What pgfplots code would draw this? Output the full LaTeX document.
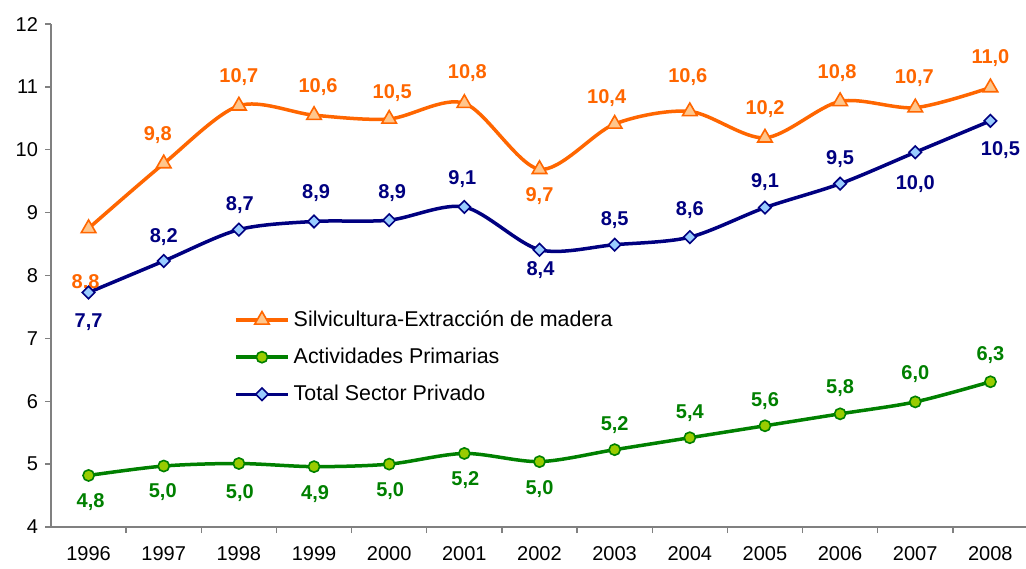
\documentclass[border=0pt]{standalone}
\usepackage{pgfplots}
\pgfplotsset{compat=1.18}
\usepackage{fontspec}
\setmainfont{Liberation Sans}
\definecolor{silvi}{HTML}{FF6600}
\definecolor{silvifill}{HTML}{FFC68C}
\definecolor{prim}{HTML}{008000}
\definecolor{primfill}{HTML}{99CC00}
\definecolor{priv}{HTML}{000080}
\definecolor{privfill}{HTML}{99CCFF}
\definecolor{axisgray}{HTML}{808080}

\begin{document}
\begin{tikzpicture}
\begin{axis}[
  scale only axis,
  width=488.5pt, height=251.5pt,
  xmin=1995.5, xmax=2008.5, ymin=4, ymax=12,
  axis x line=bottom, axis y line=left,
  axis line style={-, draw=axisgray, line width=0.7pt},
  xtick={1996,...,2008},
  minor xtick={1996.5,1997.5,...,2007.5},
  ytick={4,...,12},
  tick align=outside,
  major x tick style={draw=none},
  major tick length=3pt, minor tick length=3pt,
  every tick/.style={axisgray, line width=0.7pt},
  minor tick style={axisgray, line width=0.7pt},
  major y tick style={axisgray, line width=0.7pt},
  xticklabel style={/pgf/number format/1000 sep={}, yshift=-3pt},
  /pgf/number format/assume math mode=true,
  tick label style={font=\fontsize{10}{12}\selectfont},
  clip=false,
  legend cell align=left,
  legend style={at={(rel axis cs:0.181,0.447)}, anchor=north west, draw=none, fill=none,
    font=\fontsize{10.7}{12.8}\selectfont, row sep=5.3pt},
  legend image code/.code={\draw[mark repeat=2, mark phase=2] plot coordinates {(0pt,0pt) (13pt,0pt) (26pt,0pt)};},
  every axis plot/.append style={line width=1.75pt, smooth},
  nodes near coords,
  point meta=explicit symbolic,
  visualization depends on={\thisrow{dx} \as \dx},
  visualization depends on={\thisrow{dy} \as \dy},
]
\addplot[silvi, mark=triangle*, mark size=4.2pt,
  mark options={fill=silvifill, draw=silvi, line width=0.8pt},
  nodes near coords style={anchor=center, xshift=\dx*1pt, yshift=\dy*1pt,
    font=\fontsize{10}{12}\selectfont\bfseries, text=silvi}]
  table[x=x, y=y, meta=lab] {
x y lab dx dy
1996 8.75 8,8 -1.5 -27.5
1997 9.78 9,8 -3 14.5
1998 10.70 10,7 0 14.5
1999 10.55 10,6 2 14
2000 10.49 10,5 1.5 13
2001 10.74 10,8 1.5 15
2002 9.69 9,7 0 -13.5
2003 10.41 10,4 -4 13
2004 10.61 10,6 -1 17
2005 10.19 10,2 0 14.5
2006 10.77 10,8 -1.5 14
2007 10.67 10,7 -0.5 15
2008 10.99 11,0 0 14.5
};
\addlegendentry{Silvicultura-Extracción de madera}
\addplot[prim, mark=*, mark size=2.8pt,
  mark options={fill=primfill, draw=prim, line width=0.8pt},
  nodes near coords style={anchor=center, xshift=\dx*1pt, yshift=\dy*1pt,
    font=\fontsize{10}{12}\selectfont\bfseries, text=prim}]
  table[x=x, y=y, meta=lab] {
x y lab dx dy
1996 4.82 4,8 1 -13.5
1997 4.97 5,0 -0.5 -13
1998 5.01 5,0 0.5 -15
1999 4.96 4,9 0.5 -13.5
2000 5.00 5,0 0.5 -13.5
2001 5.17 5,2 0.5 -13.5
2002 5.04 5,0 0 -13.5
2003 5.23 5,2 0 12.5
2004 5.42 5,4 0 12.5
2005 5.61 5,6 0 12.5
2006 5.80 5,8 0 13
2007 5.99 6,0 0 14
2008 6.31 6,3 0 13.5
};
\addlegendentry{Actividades Primarias}
\addplot[priv, mark=square*, mark size=2.2pt,
  mark options={fill=privfill, draw=priv, line width=0.8pt, rotate=45},
  nodes near coords style={anchor=center, xshift=\dx*1pt, yshift=\dy*1pt,
    font=\fontsize{10}{12}\selectfont\bfseries, text=priv}]
  table[x=x, y=y, meta=lab] {
x y lab dx dy
1996 7.73 7,7 0 -15
1997 8.23 8,2 0 12
1998 8.73 8,7 0.5 12.5
1999 8.86 8,9 1 14
2000 8.88 8,9 1.5 13.5
2001 9.09 9,1 -1 14
2002 8.41 8,4 0.5 -10
2003 8.49 8,5 0 12.5
2004 8.61 8,6 0 13.5
2005 9.08 9,1 0 13
2006 9.46 9,5 0 12.5
2007 9.96 10,0 0 -16
2008 10.46 10,5 5 -14.5
};
\addlegendentry{Total Sector Privado}
\coordinate (sw) at (rel axis cs:0,0);
\end{axis}
\pgfresetboundingbox
\path (sw) ++(-25.5pt,-20.5pt) rectangle ++(513pt,284pt);
\end{tikzpicture}
\end{document}
